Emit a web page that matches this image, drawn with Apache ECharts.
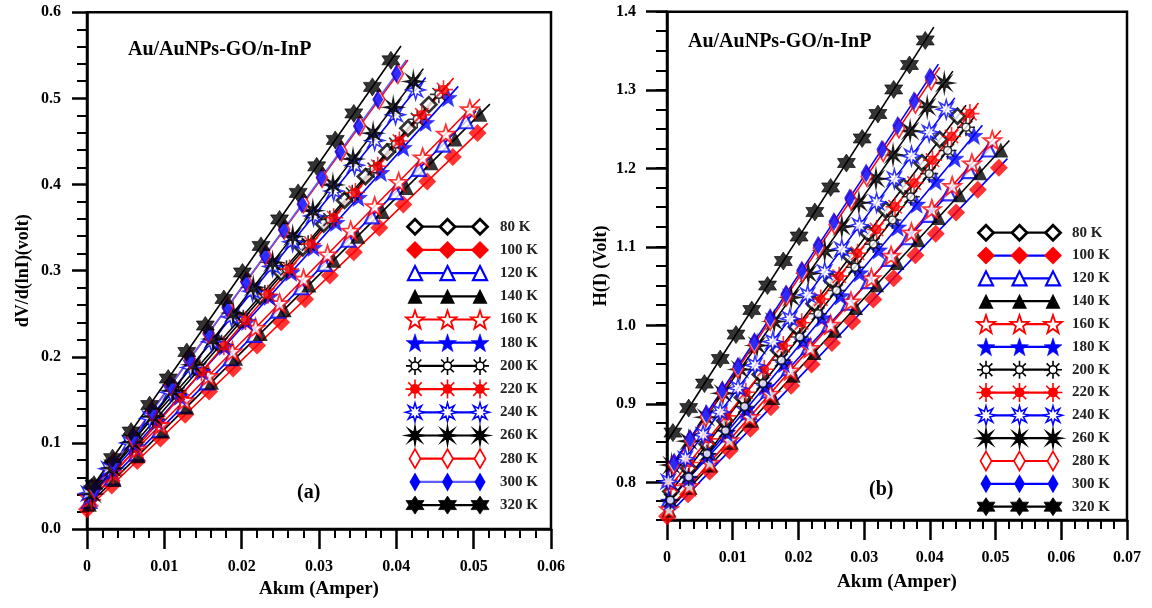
<!DOCTYPE html>
<html>
<head>
<meta charset="utf-8">
<script src="https://cdn.jsdelivr.net/npm/echarts@6/dist/echarts.min.js"></script>
<style>html,body{margin:0;padding:0;background:#fff;}#chart{width:1152px;height:608px;}</style>
</head>
<body>
<div id="chart"></div>
<script>
// ---------------- DATA ----------------
const temps = ['80 K','100 K','120 K','140 K','160 K','180 K','200 K','220 K','240 K','260 K','280 K','300 K','320 K'];

const I80 = [0.0006,0.0033,0.0061,0.0088,0.0115,0.0142,0.0170,0.0197,0.0224,0.0251,0.0279,0.0306,0.0333,0.0360,0.0388,0.0415,0.0442];
const dV80 = [0.0481,0.0757,0.1042,0.1318,0.1593,0.1868,0.2154,0.2429,0.2705,0.2980,0.3266,0.3541,0.3817,0.4092,0.4378,0.4653,0.4928];
const H80 = [0.7866,0.8163,0.8471,0.8768,0.9065,0.9362,0.9670,0.9967,1.0264,1.0561,1.0869,1.1166,1.1463,1.1760,1.2068,1.2365,1.2662];

const I100 = [0.0000,0.0032,0.0065,0.0095,0.0127,0.0158,0.0189,0.0220,0.0251,0.0282,0.0314,0.0345,0.0378,0.0409,0.0440,0.0473,0.0505];
const dV100 = [0.0229,0.0506,0.0791,0.1051,0.1328,0.1596,0.1864,0.2132,0.2400,0.2668,0.2945,0.3213,0.3499,0.3767,0.4035,0.4320,0.4597];
const H100 = [0.7547,0.7830,0.8121,0.8386,0.8668,0.8942,0.9216,0.9490,0.9763,1.0037,1.0320,1.0593,1.0885,1.1162,1.1432,1.1724,1.2006];

const I120 = [0.0003,0.0033,0.0064,0.0094,0.0125,0.0155,0.0186,0.0216,0.0247,0.0277,0.0307,0.0338,0.0368,0.0399,0.0429,0.0460,0.0490];
const dV120 = [0.0327,0.0599,0.0879,0.1151,0.1431,0.1703,0.1983,0.2255,0.2535,0.2807,0.3078,0.3359,0.3630,0.3911,0.4182,0.4463,0.4735];
const H120 = [0.7758,0.8034,0.8319,0.8595,0.8880,0.9156,0.9441,0.9717,1.0002,1.0278,1.0554,1.0840,1.1116,1.1401,1.1677,1.1962,1.2238];

const I140 = [0.0003,0.0035,0.0066,0.0098,0.0129,0.0161,0.0192,0.0224,0.0255,0.0287,0.0319,0.0350,0.0382,0.0413,0.0445,0.0476,0.0508];
const dV140 = [0.0287,0.0574,0.0852,0.1139,0.1417,0.1704,0.1982,0.2269,0.2547,0.2834,0.3121,0.3400,0.3687,0.3965,0.4252,0.4530,0.4817];
const H140 = [0.7627,0.7919,0.8202,0.8494,0.8776,0.9068,0.9351,0.9643,0.9926,1.0217,1.0509,1.0792,1.1084,1.1367,1.1658,1.1941,1.2233];

const I160 = [0.0003,0.0034,0.0065,0.0095,0.0126,0.0157,0.0188,0.0218,0.0249,0.0280,0.0311,0.0341,0.0372,0.0403,0.0434,0.0464,0.0495];
const dV160 = [0.0367,0.0651,0.0935,0.1210,0.1494,0.1778,0.2062,0.2337,0.2621,0.2905,0.3189,0.3464,0.3748,0.4031,0.4315,0.4590,0.4874];
const H160 = [0.7639,0.7936,0.8233,0.8521,0.8818,0.9116,0.9413,0.9701,0.9998,1.0295,1.0592,1.0880,1.1177,1.1475,1.1772,1.2060,1.2357];

const I180 = [0.0004,0.0033,0.0062,0.0091,0.0120,0.0149,0.0178,0.0207,0.0236,0.0264,0.0293,0.0322,0.0351,0.0380,0.0409,0.0438,0.0467];
const dV180 = [0.0380,0.0670,0.0960,0.1250,0.1540,0.1830,0.2120,0.2410,0.2700,0.2980,0.3270,0.3560,0.3850,0.4140,0.4430,0.4720,0.5010];
const H180 = [0.7740,0.8033,0.8326,0.8619,0.8912,0.9205,0.9498,0.9791,1.0084,1.0366,1.0659,1.0952,1.1245,1.1538,1.1831,1.2124,1.2417];

const I200 = [0.0005,0.0033,0.0061,0.0089,0.0118,0.0146,0.0174,0.0202,0.0230,0.0258,0.0286,0.0314,0.0343,0.0371,0.0399,0.0427,0.0455];
const dV200 = [0.0412,0.0700,0.0988,0.1277,0.1575,0.1864,0.2152,0.2441,0.2729,0.3017,0.3306,0.3594,0.3893,0.4181,0.4470,0.4758,0.5047];
const H200 = [0.7753,0.8050,0.8347,0.8643,0.8951,0.9248,0.9544,0.9841,1.0138,1.0435,1.0732,1.1028,1.1336,1.1633,1.1929,1.2226,1.2523];

const I220 = [0.0006,0.0034,0.0063,0.0091,0.0120,0.0148,0.0177,0.0205,0.0234,0.0262,0.0290,0.0319,0.0347,0.0376,0.0404,0.0433,0.0461];
const dV220 = [0.0338,0.0631,0.0935,0.1228,0.1531,0.1825,0.2128,0.2421,0.2725,0.3018,0.3311,0.3615,0.3908,0.4212,0.4505,0.4809,0.5102];
const H220 = [0.7943,0.8235,0.8538,0.8831,0.9134,0.9427,0.9730,1.0022,1.0325,1.0618,1.0911,1.1214,1.1506,1.1809,1.2102,1.2405,1.2697];

const I240 = [0.0002,0.0028,0.0055,0.0081,0.0108,0.0134,0.0161,0.0187,0.0214,0.0240,0.0266,0.0293,0.0319,0.0346,0.0372,0.0399,0.0425];
const dV240 = [0.0412,0.0700,0.0999,0.1287,0.1587,0.1875,0.2174,0.2462,0.2761,0.3049,0.3337,0.3636,0.3925,0.4224,0.4512,0.4811,0.5099];
const H240 = [0.7993,0.8285,0.8589,0.8881,0.9185,0.9478,0.9781,1.0074,1.0378,1.0670,1.0963,1.1266,1.1559,1.1863,1.2155,1.2459,1.2751];

const I260 = [0.0007,0.0033,0.0059,0.0085,0.0111,0.0137,0.0163,0.0189,0.0215,0.0240,0.0266,0.0292,0.0318,0.0344,0.0370,0.0396,0.0422];
const dV260 = [0.0407,0.0707,0.1007,0.1307,0.1607,0.1907,0.2207,0.2507,0.2807,0.3096,0.3396,0.3696,0.3996,0.4296,0.4596,0.4896,0.5196];
const H260 = [0.8202,0.8508,0.8814,0.9120,0.9426,0.9732,1.0039,1.0345,1.0651,1.0945,1.1251,1.1557,1.1863,1.2169,1.2475,1.2781,1.3087];

const I280 = [0.0010,0.0035,0.0059,0.0084,0.0108,0.0133,0.0157,0.0182,0.0206,0.0231,0.0255,0.0280,0.0304,0.0329,0.0353,0.0378,0.0402];
const dV280 = [0.0463,0.0771,0.1066,0.1373,0.1668,0.1976,0.2271,0.2579,0.2874,0.3181,0.3477,0.3784,0.4079,0.4387,0.4682,0.4989,0.5285];
const H280 = [0.8206,0.8519,0.8820,0.9134,0.9435,0.9749,1.0050,1.0364,1.0665,1.0979,1.1280,1.1594,1.1895,1.2209,1.2510,1.2824,1.3125];

const I300 = [0.0011,0.0035,0.0060,0.0084,0.0108,0.0133,0.0157,0.0181,0.0205,0.0230,0.0254,0.0278,0.0303,0.0327,0.0351,0.0376,0.0400];
const dV300 = [0.0461,0.0759,0.1069,0.1367,0.1664,0.1974,0.2272,0.2569,0.2867,0.3177,0.3475,0.3772,0.4082,0.4380,0.4677,0.4987,0.5285];
const H300 = [0.8239,0.8543,0.8860,0.9163,0.9467,0.9784,1.0088,1.0391,1.0695,1.1012,1.1316,1.1619,1.1936,1.2240,1.2544,1.2860,1.3164];

const I320 = [0.0009,0.0033,0.0057,0.0081,0.0105,0.0129,0.0153,0.0177,0.0201,0.0225,0.0249,0.0273,0.0297,0.0321,0.0345,0.0369,0.0393];
const dV320 = [0.0515,0.0823,0.1131,0.1439,0.1747,0.2055,0.2363,0.2671,0.2979,0.3287,0.3595,0.3903,0.4211,0.4518,0.4826,0.5134,0.5442];
const H320 = [0.8618,0.8931,0.9244,0.9558,0.9871,1.0185,1.0498,1.0812,1.1125,1.1439,1.1752,1.2065,1.2379,1.2692,1.3006,1.3319,1.3633];

// linear fit lines (start at I = 0, end at fitEndI)
const fitEndI    = [0.0455,0.0518,0.0503,0.0521,0.0508,0.0480,0.0468,0.0474,0.0438,0.0435,0.0415,0.0413,0.0406];
const fitDVStart = [0.042,0.0229,0.030,0.026,0.034,0.034,0.036,0.0275,0.039,0.0326,0.034,0.0325,0.040];
const fitDVEnd   = [0.5061,0.4710,0.4852,0.4933,0.4993,0.514,0.5180,0.5238,0.5243,0.5346,0.5445,0.5446,0.5609];
const fitHStart  = [0.780,0.7547,0.773,0.760,0.761,0.770,0.770,0.788,0.797,0.812,0.808,0.810,0.850];
const fitHEnd    = [1.2805,1.2121,1.2358,1.2352,1.2482,1.2548,1.2661,1.2833,1.2898,1.3240,1.3288,1.3329,1.3802];

const currents = [I80,I100,I120,I140,I160,I180,I200,I220,I240,I260,I280,I300,I320];
const dVdlnI   = [dV80,dV100,dV120,dV140,dV160,dV180,dV200,dV220,dV240,dV260,dV280,dV300,dV320];
const HofI     = [H80,H100,H120,H140,H160,H180,H200,H220,H240,H260,H280,H300,H320];

// ---------------- STYLE ----------------
const FONT = '"Liberation Serif","Times New Roman",serif';
const K='#000', R='#ff0000', B='#0000ff';
const SYM = {
  star5: 'path://M50 0L61.76 33.82L97.55 34.55L69.02 56.18L79.39 90.45L50 70L20.61 90.45L30.98 56.18L2.45 34.55L38.24 33.82Z',
  hex: 'path://M50 0L64.43 25L93.3 25L78.87 50L93.3 75L64.43 75L50 100L35.57 75L6.7 75L21.13 50L6.7 25L35.57 25Z',
  ast: 'path://M50 0L56.12 35.22L85.36 14.64L64.78 43.88L100 50L64.78 56.12L85.36 85.36L56.12 64.78L50 100L43.88 64.78L14.64 85.36L35.22 56.12L0 50L35.22 43.88L14.64 14.64L43.88 35.22Z',
  spiky: 'path://M50 0L58.42 29.67L85.36 14.64L70.33 41.58L100 50L70.33 58.42L85.36 85.36L58.42 70.33L50 100L41.58 70.33L14.64 85.36L29.67 58.42L0 50L29.67 41.58L14.64 14.64L41.58 29.67Z',
  sun: 'path://M72 50A22 22 0 1 1 28 50A22 22 0 1 1 72 50ZM50 0L50 27M50 73L50 100M0 50L27 50M73 50L100 50M14.6 14.6L33.8 33.8M66.2 66.2L85.4 85.4M85.4 14.6L66.2 33.8M33.8 66.2L14.6 85.4'
};
const marks = [
  {symbol:'diamond', size:15, fill:'#fff', border:K, bw:2.8},
  {symbol:'diamond', size:18, fill:R, border:R, bw:0},
  {symbol:'triangle', size:14, fill:'#fff', border:B, bw:2.2},
  {symbol:'triangle', size:15, fill:K, border:K, bw:0},
  {symbol:SYM.star5, size:18, fill:'#fff', border:R, bw:1.8},
  {symbol:SYM.star5, size:18, fill:B, border:B, bw:0.5},
  {symbol:SYM.sun, size:18, fill:'#fff', border:K, bw:1.6},
  {symbol:SYM.sun, size:19, fill:R, border:R, bw:1.6},
  {symbol:SYM.spiky, size:19, fill:'#fff', border:B, bw:1.5},
  {symbol:SYM.ast, size:20, fill:K, border:K, bw:1.2},
  {symbol:'diamond', size:[11,19], fill:'#fff', border:R, bw:1.8},
  {symbol:'diamond', size:[11,19], fill:B, border:B, bw:0},
  {symbol:SYM.hex, size:18, fill:K, border:K, bw:0.8}
];
const lineColorsA = [K,R,B,K,R,B,K,R,B,K,R,'#5c5cff',K];
const lineColorsB = [K,B,B,K,R,B,K,R,B,K,R,B,K];

// ---------------- OPTION ----------------
function ts(size, extra){ return Object.assign({fontFamily:FONT, fontWeight:'bold', color:'#000', fontSize:size}, extra||{}); }
function xAxisMain(grid, max, gap){
  return {
    type:'value', gridIndex:grid, min:0, max:max, interval:0.01,
    axisLine:{show:true, lineStyle:{color:'#000', width:2.5}},
    axisTick:{show:true, length:20, lineStyle:{color:'#000', width:2.5}},
    minorTick:{show:true, splitNumber:5, length:9, lineStyle:{color:'#000', width:2}},
    splitLine:{show:false},
    axisLabel:ts(16, {margin:30, formatter:v=> v===0?'0':v.toFixed(2)}),
    name:'Akım (Amper)', nameLocation:'middle', nameGap:gap,
    nameTextStyle:ts(19)
  };
}

const option = {
  animation:false,
  backgroundColor:'#fff',
  title:[
    {text:'Au/AuNPs-GO/n-InP', left:128, top:40, padding:0, textStyle:ts(20)},
    {text:'Au/AuNPs-GO/n-InP', left:688, top:32, padding:0, textStyle:ts(20)},
    {text:'(a)', left:297, top:483, padding:0, textStyle:ts(20)},
    {text:'(b)', left:869, top:480, padding:0, textStyle:ts(20)}
  ],
  grid:[
    {left:87, top:12.3, width:464, height:516.7, show:true, borderColor:'#000', borderWidth:2.5, backgroundColor:'transparent'},
    {left:667, top:11.7, width:460, height:508.3, show:true, borderColor:'#000', borderWidth:2.5, backgroundColor:'transparent'},
    {left:667, top:11.7, width:460, height:471},
    {left:415, top:215.1, width:65, height:301.6},
    {left:986, top:221.3, width:67, height:296.8}
  ],
  xAxis:[
    xAxisMain(0, 0.06, 51),
    xAxisMain(1, 0.07, 53),
    {type:'value', gridIndex:2, min:0, max:1, show:false},
    {type:'value', gridIndex:3, min:0, max:2, show:false},
    {type:'value', gridIndex:4, min:0, max:2, show:false}
  ],
  yAxis:[
    {type:'value', gridIndex:0, min:0, max:0.6, interval:0.1,
     axisLine:{show:true, lineStyle:{color:'#000', width:2.5}},
     axisTick:{show:true, length:15, lineStyle:{color:'#000', width:2.5}},
     minorTick:{show:true, splitNumber:5, length:10, lineStyle:{color:'#000', width:2}},
     splitLine:{show:false},
     axisLabel:ts(16, {margin:26, formatter:v=>v.toFixed(1)}),
     name:'dV/d(lnI)(volt)', nameLocation:'middle', nameRotate:90, nameGap:55,
     nameTextStyle:ts(18)},
    {type:'value', gridIndex:1, min:0.75, max:1.4, interval:0.025,
     axisLine:{show:true, lineStyle:{color:'#000', width:2.5}},
     axisTick:{show:true, length:11, lineStyle:{color:'#000', width:2}},
     splitLine:{show:false},
     axisLabel:{show:false},
     name:'H(I) (Volt)', nameLocation:'middle', nameRotate:90, nameGap:57,
     nameTextStyle:ts(18)},
    {type:'value', gridIndex:2, min:0.8, max:1.4, interval:0.1,
     axisLine:{show:false},
     axisTick:{show:true, length:21, lineStyle:{color:'#000', width:2.5}},
     splitLine:{show:false},
     axisLabel:ts(16, {margin:31, formatter:v=>v.toFixed(1)})},
    {type:'category', gridIndex:3, data:temps, inverse:true, position:'right',
     axisLine:{show:false}, axisTick:{show:false}, splitLine:{show:false},
     axisLabel:ts(15, {margin:20, color:'#222'})},
    {type:'category', gridIndex:4, data:temps, inverse:true, position:'right',
     axisLine:{show:false}, axisTick:{show:false}, splitLine:{show:false},
     axisLabel:ts(15, {margin:19, color:'#222'})}
  ],
  series:[]
};

function styleOf(m){
  return {color:m.fill, borderColor:m.border, borderWidth:m.bw};
}
[0,1].forEach(p=>{
  const ys = p===0 ? dVdlnI : HofI;
  const fs = p===0 ? fitDVStart : fitHStart;
  const fe = p===0 ? fitDVEnd : fitHEnd;
  const lc = p===0 ? lineColorsA : lineColorsB;
  temps.forEach((t,k)=>{
    option.series.push({
      type:'line', xAxisIndex:p, yAxisIndex:p, z:2, silent:true,
      data:[[0, fs[k]],[fitEndI[k], fe[k]]], symbol:'none',
      lineStyle:{color:lc[k], width:1.6}
    });
  });
  temps.forEach((t,k)=>{
    const m = marks[k];
    option.series.push({
      type:'scatter', xAxisIndex:p, yAxisIndex:p, z:3, silent:true,
      data: currents[k].map((x,i)=>[x, ys[k][i]]),
      symbol:m.symbol, symbolSize:m.size, itemStyle:styleOf(m)
    });
  });
  temps.forEach((t,k)=>{
    const m = marks[k];
    option.series.push({
      type:'line', xAxisIndex:3+p, yAxisIndex:3+p, z:3, silent:true,
      data:[[0,t],[1,t],[2,t]],
      symbol:m.symbol, symbolSize:m.size, showSymbol:true,
      itemStyle:styleOf(m),
      lineStyle:{color:lc[k], width:2.2}
    });
  });
});

const chart = echarts.init(document.getElementById('chart'), null, {renderer:'canvas'});
chart.setOption(option);
</script>
</body>
</html>
